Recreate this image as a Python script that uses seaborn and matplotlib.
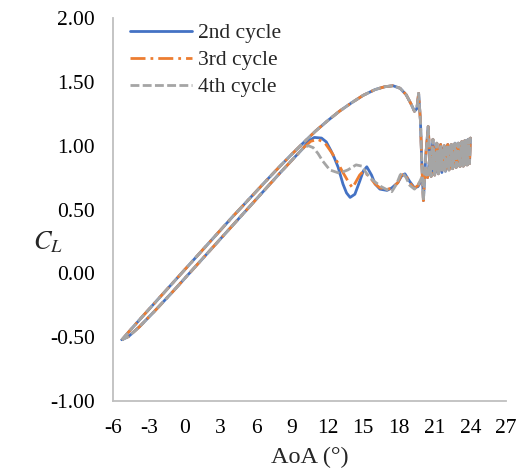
import matplotlib
matplotlib.use("Agg")
import matplotlib.pyplot as plt
from matplotlib.ticker import FormatStrFormatter
import numpy as np
import pandas as pd
import seaborn as sns

# Legend entries and line colours
cycles = ["2nd cycle", "3rd cycle", "4th cycle"]
colors = ["#4472C4", "#ED7D31", "#A5A5A5"]

# Pitch-up stroke, common to all cycles (AoA in degrees, lift coefficient)
up_aoa = [-5.25, -4.6, -3.5, -2.0, -0.5, 1.0, 2.5, 4.0, 5.5, 7.0, 8.0, 9.0,
          10.0, 11.0, 12.0, 13.0, 14.0, 15.0, 16.0, 16.8, 17.5, 18.1, 18.6,
          19.0, 19.3, 19.5, 19.65, 19.8, 19.92, 20.05, 20.25, 20.45, 20.65,
          20.85, 21.02, 21.18, 21.34, 21.5, 21.65, 21.8, 21.95, 22.1, 22.25,
          22.4, 22.55, 22.7, 22.85, 23.0, 23.15, 23.3, 23.45, 23.6, 23.75,
          23.9, 24.0]
up_cl = [-0.52, -0.45, -0.335, -0.18, -0.025, 0.13, 0.285, 0.44, 0.59, 0.74,
         0.838, 0.933, 1.025, 1.115, 1.195, 1.27, 1.335, 1.395, 1.44, 1.462,
         1.47, 1.45, 1.40, 1.33, 1.27, 1.29, 1.41, 1.20, 0.86, 0.57, 0.92,
         1.15, 0.80, 1.05, 0.79, 1.02, 0.80, 1.01, 0.81, 1.00, 0.82, 1.01,
         0.83, 1.01, 0.83, 1.02, 0.84, 1.02, 0.84, 1.03, 0.85, 1.04, 0.85,
         1.05, 1.06]

# Start of the pitch-down stroke in the deep-stall range, common to all cycles
band_down_aoa = [23.92, 23.8, 23.67, 23.53, 23.4, 23.25, 23.1, 22.95, 22.8,
                 22.65, 22.5, 22.35, 22.2, 22.05, 21.9, 21.75, 21.6, 21.45,
                 21.3, 21.15, 21.0, 20.85, 20.7, 20.55, 20.4, 20.25]
band_down_cl = [0.86, 1.05, 0.85, 1.04, 0.84, 1.03, 0.84, 1.02, 0.83, 1.01,
                0.82, 1.00, 0.81, 0.99, 0.80, 0.98, 0.79, 0.96, 0.78, 0.94,
                0.77, 0.92, 0.76, 0.88, 0.75, 0.80]

# Pitch-down stroke through flow reattachment, per cycle
c2_aoa = [19.9, 19.6, 19.3, 18.9, 18.5, 18.2, 17.9, 17.4, 17.0, 16.4, 16.0,
          15.7, 15.3, 15.0, 14.7, 14.3, 13.9, 13.6, 13.3, 12.9, 12.6, 12.3,
          11.9, 11.5, 10.9, 10.4]
c2_cl = [0.73, 0.68, 0.67, 0.72, 0.78, 0.76, 0.71, 0.67, 0.65, 0.66, 0.70,
         0.77, 0.835, 0.80, 0.72, 0.62, 0.595, 0.63, 0.70, 0.83, 0.90, 0.96,
         1.03, 1.06, 1.065, 1.035]

c3_aoa = [19.9, 19.6, 19.3, 18.9, 18.5, 18.2, 17.9, 17.4, 17.0, 16.4, 16.0,
          15.5, 15.0, 14.7, 14.4, 14.1, 13.8, 13.3, 12.9, 12.4, 11.8, 11.2,
          10.6]
c3_cl = [0.75, 0.69, 0.665, 0.71, 0.78, 0.77, 0.71, 0.665, 0.66, 0.67, 0.70,
         0.76, 0.80, 0.77, 0.72, 0.67, 0.71, 0.79, 0.86, 0.94, 1.02, 1.05,
         1.035]

c4_aoa = [19.9, 19.6, 19.3, 18.9, 18.6, 18.3, 18.1, 17.8, 17.4, 17.0, 16.5,
          15.8, 15.3, 14.9, 14.4, 13.7, 13.0, 12.2, 11.6, 11.2, 10.8, 10.4]
c4_cl = [0.75, 0.69, 0.66, 0.69, 0.75, 0.79, 0.77, 0.70, 0.64, 0.655, 0.68,
         0.73, 0.78, 0.84, 0.85, 0.81, 0.785, 0.81, 0.88, 0.94, 0.985, 1.0]

# Attached-flow part of the pitch-down stroke, common to all cycles
att_down_aoa = [10.0, 9.0, 8.0, 6.5, 5.0, 3.5, 2.0, 0.5, -1.0, -2.5, -3.8,
                -4.7, -5.25]
att_down_cl = [0.985, 0.885, 0.785, 0.63, 0.475, 0.32, 0.165, 0.01, -0.145,
               -0.295, -0.42, -0.495, -0.52]

x_ticks = [-6, -3, 0, 3, 6, 9, 12, 15, 18, 21, 24, 27]
y_ticks = [-1.0, -0.5, 0.0, 0.5, 1.0, 1.5, 2.0]

# One closed loop per cycle, kept in stroke order
frames = []
for name, a, c in zip(cycles, [c2_aoa, c3_aoa, c4_aoa], [c2_cl, c3_cl, c4_cl]):
    frames.append(pd.DataFrame({
        "AoA": up_aoa + band_down_aoa + a + att_down_aoa,
        "CL": up_cl + band_down_cl + c + att_down_cl,
        "cycle": name,
    }))
df = pd.concat(frames, ignore_index=True)

sns.set_theme(style="white")
plt.rcParams["font.family"] = ["Liberation Serif", "DejaVu Serif"]
plt.rcParams["mathtext.fontset"] = "stix"
plt.rcParams["axes.unicode_minus"] = False

fig = plt.figure(figsize=(5.16, 4.71), dpi=100)
ax = fig.add_axes([0.219, 0.1486, 0.762, 0.813])

dash_map = {"2nd cycle": "", "3rd cycle": (5.4, 1.8, 1.0, 1.8),
            "4th cycle": (3.2, 1.2)}
sns.lineplot(data=df, x="AoA", y="CL", hue="cycle", style="cycle",
             hue_order=cycles, style_order=cycles,
             palette=dict(zip(cycles, colors)), dashes=dash_map,
             sort=False, estimator=None, linewidth=2.0, legend=False, ax=ax)

ax.set_xlim(-6, 27)
ax.set_ylim(-1, 2)
ax.set_xticks(x_ticks)
ax.set_yticks(y_ticks)
ax.yaxis.set_major_formatter(FormatStrFormatter("%.2f"))

spine_color = "#BFBFBF"
for side in ["top", "right"]:
    ax.spines[side].set_visible(False)
for side in ["left", "bottom"]:
    ax.spines[side].set_color(spine_color)
    ax.spines[side].set_linewidth(1.3)
ax.tick_params(axis="both", direction="in", length=4, width=1.2,
               color=spine_color, labelsize=15.5, labelcolor="black")
ax.tick_params(axis="x", pad=13)
ax.tick_params(axis="y", pad=13)

ax.set_xlabel("AoA (°)", fontsize=17.5, labelpad=6)
ax.set_ylabel("$C_L$", fontsize=19, rotation=0, ha="center", va="center")
ax.yaxis.set_label_coords(-0.165, 0.414)

ax.legend(ax.lines[:3], cycles, loc="upper left",
          bbox_to_anchor=(0.043, 0.987), frameon=False, fontsize=15.5,
          handlelength=2.9, handletextpad=0.25, labelspacing=0.32,
          borderpad=0, borderaxespad=0)

fig.savefig("out.png", dpi=100)
